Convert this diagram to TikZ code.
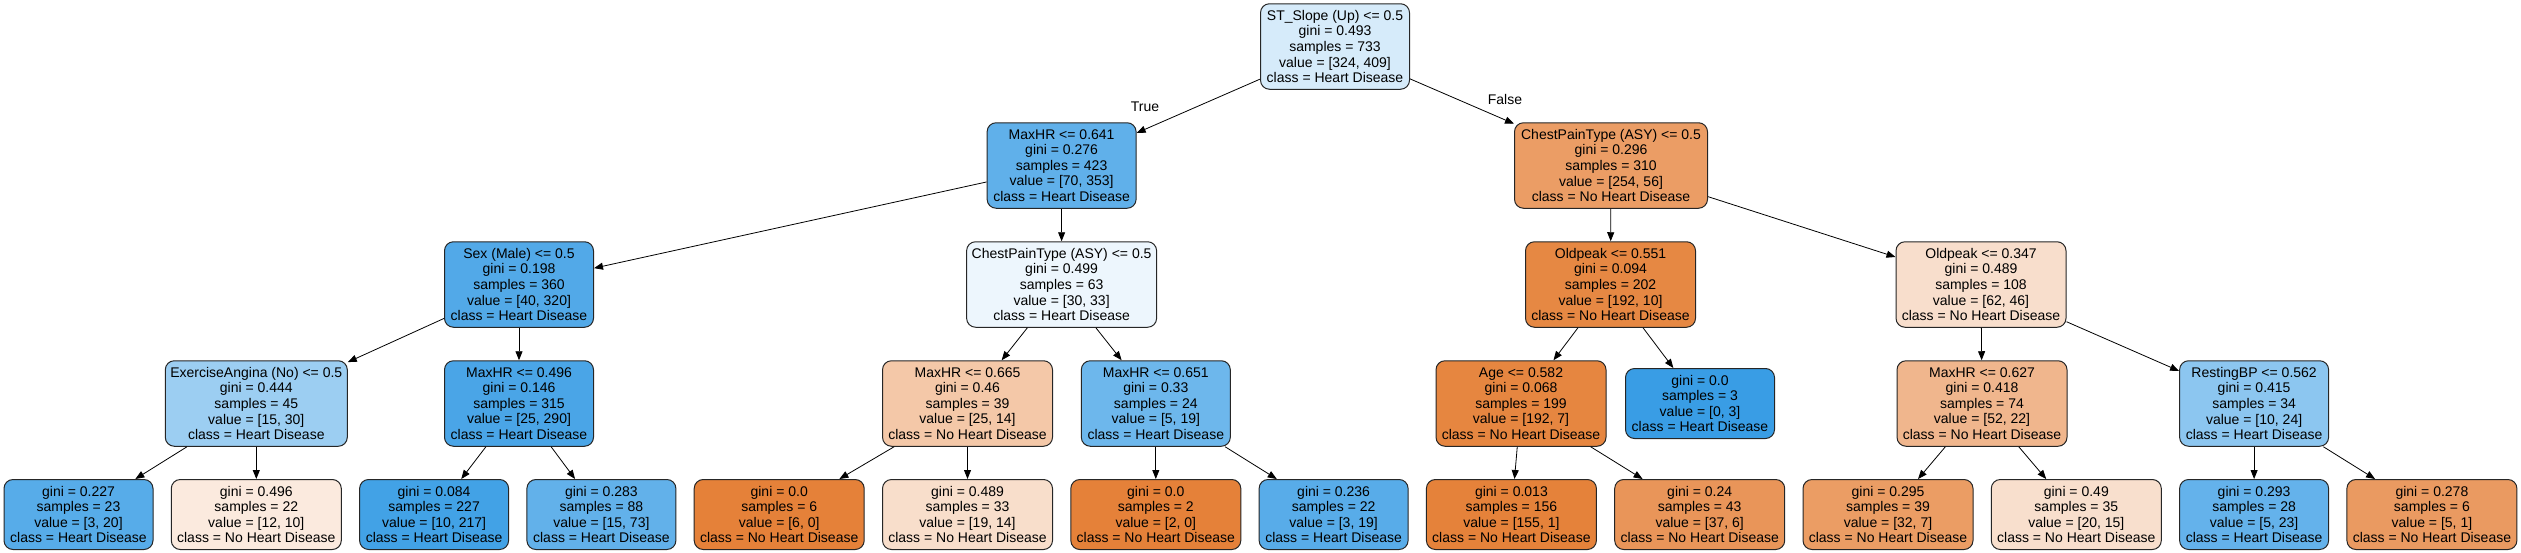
\documentclass[tikz,border=0pt]{standalone}
\usepackage{fontspec}
\setmainfont{Liberation Sans}
\usetikzlibrary{arrows.meta}
\definecolor{hdblue}{RGB}{57,157,229}
\definecolor{nhdorange}{RGB}{229,129,57}
\tikzset{
  tnode/.style={draw=black!85, line width=1pt, rounded corners=9pt, align=center,
    inner sep=0pt, font=\fontsize{14}{15.6}\selectfont, minimum height=85.5pt},
  tleaf/.style={tnode, minimum height=70pt},
  hd/.style={minimum width=149pt},
  nhd/.style={minimum width=170pt},
  bl/.style={fill=hdblue!#1!white},
  og/.style={fill=nhdorange!#1!white},
  edge/.style={-{Triangle[length=9pt,width=7pt]}, line width=0.8pt, draw=black},
  lbl/.style={font=\fontsize{14}{15.6}\selectfont, inner sep=0pt}
}
\begin{document}
\begin{tikzpicture}[x=1pt,y=-1pt]
\useasboundingbox (0,0) rectangle (2521,552);
% level 0
\node[tnode, hd, bl=20.8] (n0) at (1335,46.5) {ST\_Slope (Up) <= 0.5\\gini = 0.493\\samples = 733\\value = [324, 409]\\class = Heart Disease};
% level 1
\node[tnode, hd, bl=80.2] (n1) at (1061.6,165.5) {MaxHR <= 0.641\\gini = 0.276\\samples = 423\\value = [70, 353]\\class = Heart Disease};
\node[tnode, minimum width=193pt, og=78.0] (n2) at (1611,165.5) {ChestPainType (ASY) <= 0.5\\gini = 0.296\\samples = 310\\value = [254, 56]\\class = No Heart Disease};
% level 2
\node[tnode, hd, bl=87.5] (n3) at (519,284.5) {Sex (Male) <= 0.5\\gini = 0.198\\samples = 360\\value = [40, 320]\\class = Heart Disease};
\node[tnode, minimum width=190pt, bl=9.1] (n4) at (1061.6,284.5) {ChestPainType (ASY) <= 0.5\\gini = 0.499\\samples = 63\\value = [30, 33]\\class = Heart Disease};
\node[tnode, nhd, og=94.8] (n5) at (1610.5,284.5) {Oldpeak <= 0.551\\gini = 0.094\\samples = 202\\value = [192, 10]\\class = No Heart Disease};
\node[tnode, nhd, og=25.8] (n6) at (1981,284.5) {Oldpeak <= 0.347\\gini = 0.489\\samples = 108\\value = [62, 46]\\class = No Heart Disease};
% level 3
\node[tnode, minimum width=182pt, bl=50] (n7) at (256.3,403.5) {ExerciseAngina (No) <= 0.5\\gini = 0.444\\samples = 45\\value = [15, 30]\\class = Heart Disease};
\node[tnode, hd, bl=91.4] (n8) at (519,403.5) {MaxHR <= 0.496\\gini = 0.146\\samples = 315\\value = [25, 290]\\class = Heart Disease};
\node[tnode, nhd, og=44] (n9) at (967.5,403.5) {MaxHR <= 0.665\\gini = 0.46\\samples = 39\\value = [25, 14]\\class = No Heart Disease};
\node[tnode, hd, bl=73.7] (n10) at (1155.8,403.5) {MaxHR <= 0.651\\gini = 0.33\\samples = 24\\value = [5, 19]\\class = Heart Disease};
\node[tnode, nhd, og=96.4] (n11) at (1521,403.5) {Age <= 0.582\\gini = 0.068\\samples = 199\\value = [192, 7]\\class = No Heart Disease};
\node[tleaf, hd, bl=100] (n12) at (1700,403.5) {gini = 0.0\\samples = 3\\value = [0, 3]\\class = Heart Disease};
\node[tnode, nhd, og=57.7] (n13) at (1982,403.5) {MaxHR <= 0.627\\gini = 0.418\\samples = 74\\value = [52, 22]\\class = No Heart Disease};
\node[tnode, hd, bl=58.3] (n14) at (2254.1,403.5) {RestingBP <= 0.562\\gini = 0.415\\samples = 34\\value = [10, 24]\\class = Heart Disease};
% leaves
\node[tleaf, hd, bl=85] (l1) at (78.5,514.5) {gini = 0.227\\samples = 23\\value = [3, 20]\\class = Heart Disease};
\node[tleaf, nhd, og=16.7] (l2) at (256.3,514.5) {gini = 0.496\\samples = 22\\value = [12, 10]\\class = No Heart Disease};
\node[tleaf, hd, bl=95.4] (l3) at (434.1,514.5) {gini = 0.084\\samples = 227\\value = [10, 217]\\class = Heart Disease};
\node[tleaf, hd, bl=79.5] (l4) at (601.4,514.5) {gini = 0.283\\samples = 88\\value = [15, 73]\\class = Heart Disease};
\node[tleaf, nhd, og=100] (l5) at (779.2,514.5) {gini = 0.0\\samples = 6\\value = [6, 0]\\class = No Heart Disease};
\node[tleaf, nhd, og=26.3] (l6) at (967.5,514.5) {gini = 0.489\\samples = 33\\value = [19, 14]\\class = No Heart Disease};
\node[tleaf, nhd, og=100] (l7) at (1155.8,514.5) {gini = 0.0\\samples = 2\\value = [2, 0]\\class = No Heart Disease};
\node[tleaf, hd, bl=84.2] (l8) at (1333.6,514.5) {gini = 0.236\\samples = 22\\value = [3, 19]\\class = Heart Disease};
\node[tleaf, nhd, og=99.4] (l9) at (1511.4,514.5) {gini = 0.013\\samples = 156\\value = [155, 1]\\class = No Heart Disease};
\node[tleaf, nhd, og=83.8] (l10) at (1699.7,514.5) {gini = 0.24\\samples = 43\\value = [37, 6]\\class = No Heart Disease};
\node[tleaf, nhd, og=78.1] (l11) at (1888,514.5) {gini = 0.295\\samples = 39\\value = [32, 7]\\class = No Heart Disease};
\node[tleaf, nhd, og=25] (l12) at (2076.3,514.5) {gini = 0.49\\samples = 35\\value = [20, 15]\\class = No Heart Disease};
\node[tleaf, hd, bl=78.3] (l13) at (2254.1,514.5) {gini = 0.293\\samples = 28\\value = [5, 23]\\class = Heart Disease};
\node[tleaf, nhd, og=80] (l14) at (2431.9,514.5) {gini = 0.278\\samples = 6\\value = [5, 1]\\class = No Heart Disease};
% edge labels
\node[lbl] (tlab) at (1145,107) {True};
\node[lbl] (flab) at (1505,99) {False};
% edges
\foreach \a/\b in {n0/n1,n0/n2,n1/n3,n1/n4,n2/n5,n2/n6,n3/n7,n3/n8,n4/n9,n4/n10,n5/n11,n5/n12,n6/n13,n6/n14,n7/l1,n7/l2,n8/l3,n8/l4,n9/l5,n9/l6,n10/l7,n10/l8,n11/l9,n11/l10,n13/l11,n13/l12,n14/l13,n14/l14}
  \draw[edge] (\a) -- (\b);
\end{tikzpicture}
\end{document}
